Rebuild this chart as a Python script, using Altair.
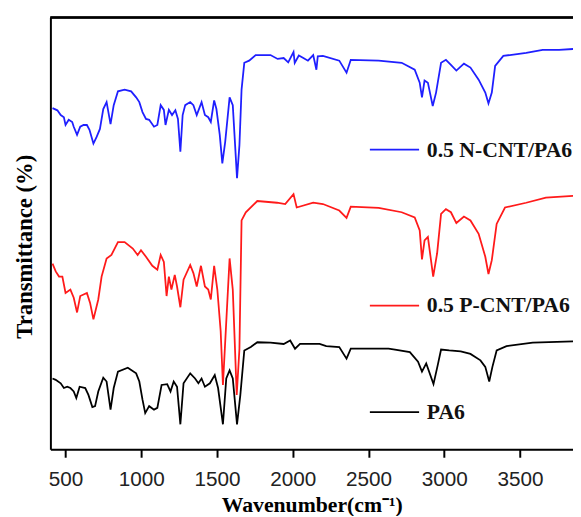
import altair as alt
import pandas as pd

# ---- data (wavenumber in cm-1, transmittance in arbitrary %) ----
wn_n = [414, 446, 468, 489, 500, 521, 544, 554, 576, 597, 619, 641, 658, 684, 706, 727, 749, 771, 797, 818,
        846, 890, 933, 966, 987, 1008, 1031, 1052, 1084, 1106, 1128, 1149, 1160, 1182, 1203, 1225, 1242, 1258,
        1273, 1290, 1323, 1344, 1366, 1398, 1420, 1442, 1459, 1481, 1496, 1518, 1535, 1554, 1583, 1604, 1632,
        1648, 1662, 1680, 1712, 1755, 1853, 1900, 1940, 1970, 2005, 2013, 2040, 2070, 2100, 2135, 2156, 2165,
        2199, 2307, 2355, 2383, 2567, 2719, 2805, 2838, 2853, 2870, 2892, 2924, 2946, 2979, 3011, 3044, 3080,
        3130, 3173, 3227, 3271, 3292, 3314, 3336, 3390, 3541, 3650, 3758, 3851]
t_n = [79.0, 78.5, 77.4, 76.9, 75.1, 76.3, 75.8, 74.7, 72.8, 74.7, 75.1, 75.1, 74.0, 70.8, 72.4, 74.2, 78.8, 80.4,
       75.3, 79.7, 82.9, 83.3, 82.9, 81.5, 80.4, 78.1, 76.5, 76.3, 74.7, 75.1, 79.7, 78.6, 75.1, 78.6, 77.4, 78.5,
       76.5, 68.9, 77.4, 79.7, 80.4, 79.7, 77.4, 80.4, 77.4, 76.9, 75.8, 80.8, 78.8, 72.8, 66.2, 71.2, 81.5, 79.7,
       62.8, 70.5, 83.3, 89.5, 90.0, 91.3, 91.3, 90.4, 90.6, 89.6, 92.0, 89.5, 91.2, 90.6, 90.0, 91.3, 87.9, 91.0,
       91.1, 90.0, 87.2, 90.2, 90.0, 89.5, 87.9, 84.9, 81.5, 85.4, 84.9, 79.5, 82.6, 89.5, 90.2, 89.0, 87.7,
       89.3, 88.4, 85.6, 82.6, 80.1, 82.6, 88.8, 91.1, 91.8, 92.5, 92.5, 92.7]

wn_p = [414, 435, 457, 479, 500, 532, 554, 576, 597, 641, 662, 684, 716, 738, 771, 803, 846, 890, 944, 976,
        998, 1031, 1073, 1106, 1128, 1149, 1167, 1182, 1199, 1221, 1236, 1258, 1279, 1323, 1344, 1366, 1394,
        1420, 1442, 1459, 1481, 1502, 1524, 1539, 1583, 1604, 1630, 1648, 1662, 1690, 1766, 1896, 1950, 2005,
        2026, 2135, 2199, 2307, 2355, 2383, 2567, 2719, 2805, 2838, 2853, 2870, 2892, 2927, 2953, 2979, 3011,
        3044, 3080, 3130, 3173, 3227, 3271, 3292, 3314, 3346, 3401, 3541, 3671, 3851]
t_p = [43.0, 41.2, 40.0, 40.0, 36.2, 37.0, 35.1, 31.7, 35.5, 36.2, 33.9, 30.1, 34.7, 40.0, 44.2, 45.0, 48.0, 48.0,
       46.5, 45.0, 46.1, 44.6, 42.5, 41.6, 45.0, 43.4, 35.5, 40.0, 37.0, 40.4, 37.7, 32.9, 39.3, 42.7, 40.8, 37.7,
       42.5, 37.7, 37.0, 34.7, 42.5, 37.0, 27.4, 14.9, 44.2, 37.0, 12.6, 23.3, 53.0, 54.9, 57.5, 57.1, 56.8, 59.1,
       56.0, 57.1, 56.8, 55.3, 53.6, 56.2, 55.9, 54.9, 53.7, 50.7, 44.0, 48.4, 49.2, 40.0, 45.4, 54.5, 55.6,
       54.9, 52.4, 53.9, 53.0, 49.9, 44.6, 40.6, 43.8, 52.2, 56.0, 57.1, 58.3, 58.7]

wn_pa6 = [414, 435, 468, 489, 511, 532, 554, 571, 593, 630, 651, 677, 695, 716, 749, 771, 797, 818, 846, 911,
          966, 987, 1008, 1026, 1052, 1084, 1106, 1134, 1171, 1193, 1214, 1236, 1258, 1279, 1323, 1355, 1377,
          1398, 1420, 1453, 1485, 1507, 1539, 1561, 1583, 1604, 1632, 1654, 1680, 1723, 1766, 1853, 1940, 1983,
          2015, 2048, 2177, 2221, 2307, 2355, 2383, 2632, 2675, 2773, 2827, 2853, 2881, 2929, 2957, 2979, 3033,
          3109, 3173, 3239, 3271, 3297, 3318, 3346, 3411, 3584, 3851]
t_pa6 = [16.4, 16.1, 15.3, 14.2, 14.5, 14.2, 13.4, 11.9, 14.5, 14.2, 12.6, 9.8, 10.0, 13.4, 16.6, 15.7, 9.2, 14.2,
         18.0, 18.9, 17.6, 15.7, 11.5, 8.4, 10.0, 9.2, 9.6, 14.9, 15.1, 13.4, 15.7, 14.5, 5.8, 15.3, 17.6, 16.4,
         15.3, 16.4, 14.5, 15.3, 17.2, 14.2, 5.8, 16.4, 18.3, 16.4, 5.8, 12.6, 22.9, 23.7, 24.8, 24.7, 24.4, 25.2,
         23.3, 24.4, 24.4, 23.9, 23.7, 21.0, 23.3, 23.3, 23.1, 22.5, 20.3, 18.0, 19.9, 15.1, 19.5, 23.1, 22.9,
         22.7, 22.1, 20.6, 19.1, 15.7, 19.1, 22.9, 23.9, 24.7, 25.0]

series_names = ["0.5 N-CNT/PA6", "0.5 P-CNT/PA6", "PA6"]
series_colors = ["#1f1fff", "#ff1a1a", "#000000"]

# legend annotation anchors (data coordinates)
legend_x1 = [2509, 2509, 2509]
legend_x2 = [2834, 2834, 2834]
legend_text_x = [2885, 2885, 2885]
legend_y = [69.4, 33.3, 8.6]

x_ticks = [500, 1000, 1500, 2000, 2500, 3000, 3500]
x_domain = [400, 3850]
y_domain = [0, 100]

# ---- build tables ----
rows = []
for name, wns, ts in zip(series_names, [wn_n, wn_p, wn_pa6], [t_n, t_p, t_pa6]):
    for i, (w, t) in enumerate(zip(wns, ts)):
        rows.append({"series": name, "wn": w, "T": t, "i": i})
df = pd.DataFrame(rows)

leg = pd.DataFrame({"series": series_names, "x1": legend_x1, "x2": legend_x2,
                    "tx": legend_text_x, "y": legend_y})

W, H = 530, 438
color = alt.Color("series:N", scale=alt.Scale(domain=series_names, range=series_colors), legend=None)
xscale = alt.Scale(domain=x_domain, nice=False, zero=False)
yscale = alt.Scale(domain=y_domain, nice=False, zero=False)

lines = alt.Chart(df).mark_line(strokeWidth=1.8).encode(
    x=alt.X("wn:Q", scale=xscale,
            axis=alt.Axis(title="Wavenumber(cm⁻¹)", values=x_ticks, format="d", grid=False,
                          domainColor="black", domainWidth=2, tickColor="black", tickWidth=2, tickSize=8,
                          labelFont="Liberation Sans", labelFontSize=21, labelColor="#222", labelPadding=12,
                          titleFont="Liberation Serif", titleFontSize=22, titleFontWeight="bold",
                          titleColor="black", titlePadding=5)),
    y=alt.Y("T:Q", scale=yscale,
            axis=alt.Axis(title="Transmittance (%)", labels=False, ticks=False, grid=False,
                          domainColor="black", domainWidth=2, titleY=232,
                          titleFont="Liberation Serif", titleFontSize=23, titleFontWeight="bold",
                          titleColor="black", titlePadding=14)),
    color=color,
    order="i:Q",
)

top_border = alt.Chart(leg).mark_rule(color="black", strokeWidth=2).encode(
    x=alt.value(0), x2=alt.value(W), y=alt.value(0)
)

leg_lines = alt.Chart(leg).mark_rule(strokeWidth=1.8).encode(
    x=alt.X("x1:Q", scale=xscale), x2="x2:Q", y=alt.Y("y:Q", scale=yscale), color=color
)
leg_text = alt.Chart(leg).mark_text(align="left", baseline="middle", font="Liberation Serif",
                                    fontSize=22, fontWeight="bold", color="#111").encode(
    x=alt.X("tx:Q", scale=xscale), y=alt.Y("y:Q", scale=yscale), text="series:N"
)

chart = alt.layer(lines, top_border, leg_lines, leg_text).properties(
    width=W, height=H,
    autosize=alt.AutoSizeParams(type="none"),
    padding={"left": 43, "top": 6, "right": 0, "bottom": 64},
).configure_view(stroke=None).configure(background="white")

chart.save("out.html", embed_options={"renderer": "svg", "actions": False})
